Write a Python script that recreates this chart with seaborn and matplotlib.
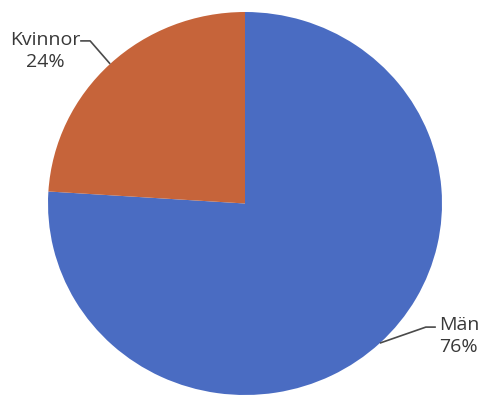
#!/usr/bin/env python3
import numpy as np
import seaborn as sns
import matplotlib.pyplot as plt

# data
labels = ['Män', 'Kvinnor']
shares = [76, 24]
colors = ['#4a6cc2', '#c6643a']

# where the labels sit, relative to the wedge edge point (pixels, +y = up)
line_offsets = {'Män': [(46, 16), (56, 16)], 'Kvinnor': [(-20, 23), (-30, 23)]}
text_offsets = {'Män': (79, 7), 'Kvinnor': (-65, 13)}

sns.set_theme(style='white')
plt.rcParams['font.family'] = ['Open Sans', 'DejaVu Sans']

fig = plt.figure(figsize=(4.82, 4.0), dpi=100)
ax = fig.add_axes([0, 0, 1, 1])

wedges, _ = ax.pie(shares, colors=colors, startangle=90, counterclock=False,
                   wedgeprops=dict(linewidth=0))

# slightly squashed pie, like the original
sx, sy = 197.0, 191.5      # pixels per unit
cx, cy = 245.0, 203.5      # centre, pixels from top-left
ax.set_aspect('auto')
ax.set_xlim(-cx / sx, (482 - cx) / sx)
ax.set_ylim(-(400 - cy) / sy, cy / sy)
ax.axis('off')

for w, lab, val in zip(wedges, labels, shares):
    mid = np.deg2rad((w.theta1 + w.theta2) / 2)
    ex, ey = np.cos(mid), np.sin(mid)
    xs = [ex] + [ex + dx / sx for dx, dy in line_offsets[lab]]
    ys = [ey] + [ey + dy / sy for dx, dy in line_offsets[lab]]
    ax.plot(xs, ys, color='#4a4a4a', lw=1.2, solid_capstyle='butt')
    tx, ty = text_offsets[lab]
    ax.text(ex + tx / sx, ey + ty / sy, f'{lab}\n{val}%', ha='center', va='center',
            fontsize=14, color='#383838', linespacing=1.25)

plt.savefig('out.png', dpi=100)
